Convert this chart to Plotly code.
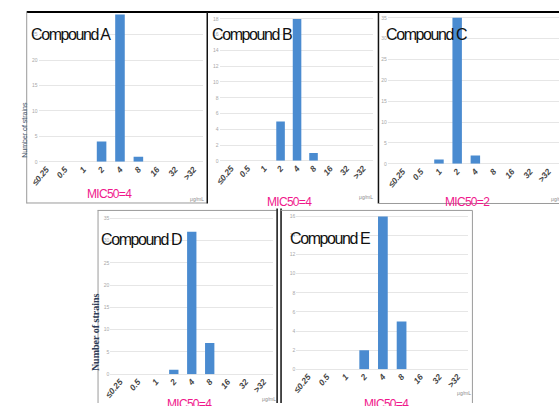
import plotly.graph_objects as go

# ---------------- data ----------------
categories = ["≤0.25", "0.5", "1", "2", "4", "8", "16", "32", ">32"]
compound_a = [0, 0, 0, 4, 29, 1, 0, 0, 0]
compound_b = [0, 0, 0, 5, 18, 1, 0, 0, 0]
compound_c = [0, 0, 1, 35, 2, 0, 0, 0, 0]
compound_d = [0, 0, 0, 1, 32, 7, 0, 0, 0]
compound_e = [0, 0, 0, 2, 16, 5, 0, 0, 0]
titles = ["Compound A", "Compound B", "Compound C", "Compound D", "Compound E"]
mic50_labels = ["MIC50=4", "MIC50=4", "MIC50=2", "MIC50=4", "MIC50=4"]
unit_label = "μg/mL"
y_title = "Number of strains"

series = [compound_a, compound_b, compound_c, compound_d, compound_e]

# ---------------- geometry (pixels) ----------------
W, H = 559, 406


def px(x):
    return x / W


def py(y):
    return 1 - y / H


# left, right, first-category centre, category spacing, y0 pixel, px per unit, top pixel, dtick
geom = [
    dict(L=30, R=197, c0=38, s=18.7, y0=163, k=5.12, top=12, dtick=5),
    dict(L=214, R=370, c0=225.75, s=16.75, y0=162, k=7.94, top=12, dtick=2),
    dict(L=385, R=559, c0=400, s=18.5, y0=165, k=4.2, top=12, dtick=5),
    dict(L=103, R=268, c0=112.75, s=18.25, y0=377, k=4.486, top=215, dtick=5),
    dict(L=292, R=467, c0=304, s=19, y0=372, k=9.625, top=214, dtick=2),
]
title_pos = [(63, 35), (247, 35), (424, 35), (135, 241), (326, 240)]
mic_pos = [(102, 195), (285, 203), (466, 203), (183, 407), (384, 407)]
unit_pos = [(191, 200), (363, 198), (558, 200), (264, 402), (462, 396)]

BAR = "#4A8BD0"
GRID = "#E6E6E6"
SANS = "Liberation Sans, Arial, sans-serif"


def squeeze(text, spacing):
    return '<span style="letter-spacing:%spx">%s</span>' % (spacing, text)


fig = go.Figure()
layout = dict(
    width=W, height=H, margin=dict(l=0, r=0, t=0, b=0),
    paper_bgcolor="white", plot_bgcolor="rgba(0,0,0,0)",
    showlegend=False, bargap=0.48,
)
annotations = []
shapes = []

for i, (vals, g) in enumerate(zip(series, geom)):
    n = "" if i == 0 else str(i + 1)
    fig.add_trace(go.Bar(
        x=categories, y=vals, xaxis="x" + n, yaxis="y" + n,
        marker=dict(color=BAR, line=dict(width=0)),
        width=0.52,
    ))
    xr = [(g["L"] - g["c0"]) / g["s"], (g["R"] - g["c0"]) / g["s"]]
    ymax = (g["y0"] - g["top"]) / g["k"]
    layout["xaxis" + n] = dict(
        type="category", domain=[px(g["L"]), px(g["R"])], range=xr,
        anchor="y" + n, showgrid=False, zeroline=False, showline=False,
        ticks="", tickangle=-50, fixedrange=True,
        tickfont=dict(size=8.5, color="#454545", family=SANS, weight="bold",
                      style="italic"),
    )
    layout["yaxis" + n] = dict(
        domain=[py(g["y0"]), py(g["top"])], range=[0, ymax],
        anchor="x" + n, dtick=g["dtick"], showgrid=True, gridcolor=GRID,
        gridwidth=1, zeroline=True, zerolinecolor=GRID, zerolinewidth=1,
        showline=False, ticks="", fixedrange=True,
        tickfont=dict(size=5, color="#A8A8A8", family=SANS),
    )
    tx, ty = title_pos[i]
    annotations.append(dict(
        text=squeeze(titles[i], -1.4), x=px(tx), y=py(ty), xref="paper", yref="paper",
        showarrow=False, xanchor="center", yanchor="middle",
        font=dict(size=16, color="#111111", family=SANS),
    ))
    mx, my = mic_pos[i]
    annotations.append(dict(
        text=squeeze(mic50_labels[i], -0.7), x=px(mx), y=py(my), xref="paper", yref="paper",
        showarrow=False, xanchor="center", yanchor="middle",
        font=dict(size=12, color="#F0188C", family=SANS),
    ))
    ux, uy = unit_pos[i]
    annotations.append(dict(
        text=unit_label, x=px(ux), y=py(uy), xref="paper", yref="paper",
        showarrow=False, xanchor="center", yanchor="middle",
        font=dict(size=5, color="#888888", family=SANS),
    ))

# y-axis titles (panels A and D)
annotations.append(dict(
    text=y_title, x=px(15), y=py(131), xref="paper", yref="paper",
    showarrow=False, textangle=-90, xanchor="center", yanchor="middle",
    font=dict(size=7, color="#44546A", family=SANS),
))
annotations.append(dict(
    text="<b>" + y_title + "</b>", x=px(88), y=py(335), xref="paper", yref="paper",
    showarrow=False, textangle=-90, xanchor="center", yanchor="middle",
    font=dict(size=10, color="#2E3B55", family="Liberation Serif, serif"),
))


def line(x0, y0, x1, y1, color, width):
    shapes.append(dict(type="line", xref="paper", yref="paper",
                       x0=px(x0), y0=py(y0), x1=px(x1), y1=py(y1),
                       line=dict(color=color, width=width)))


# borders
line(18, 12, 559, 12, "#000000", 2)
line(18, 12, 18, 205, "#9A9A9A", 1)
line(18, 204.5, 201, 204.5, "#9A9A9A", 1)
line(201.5, 12, 201.5, 205, "#111111", 1.5)
line(375.5, 12, 375.5, 205, "#111111", 1.5)
line(375, 205, 559, 205, "#9A9A9A", 1)
line(90, 212, 272, 212, "#9A9A9A", 1)
line(90.5, 212, 90.5, 406, "#9A9A9A", 1)
line(272.5, 210, 272.5, 406, "#111111", 1.5)
line(276.5, 210, 276.5, 406, "#111111", 1.5)
line(276, 212, 471, 212, "#9A9A9A", 1)
line(471, 212, 471, 406, "#9A9A9A", 1)

layout["annotations"] = annotations
layout["shapes"] = shapes
fig.update_layout(**layout)
fig.write_html(
    "out.html",
    config={"displayModeBar": False},
    post_script="document.body.style.margin='0';document.body.style.overflow='hidden';",
)
